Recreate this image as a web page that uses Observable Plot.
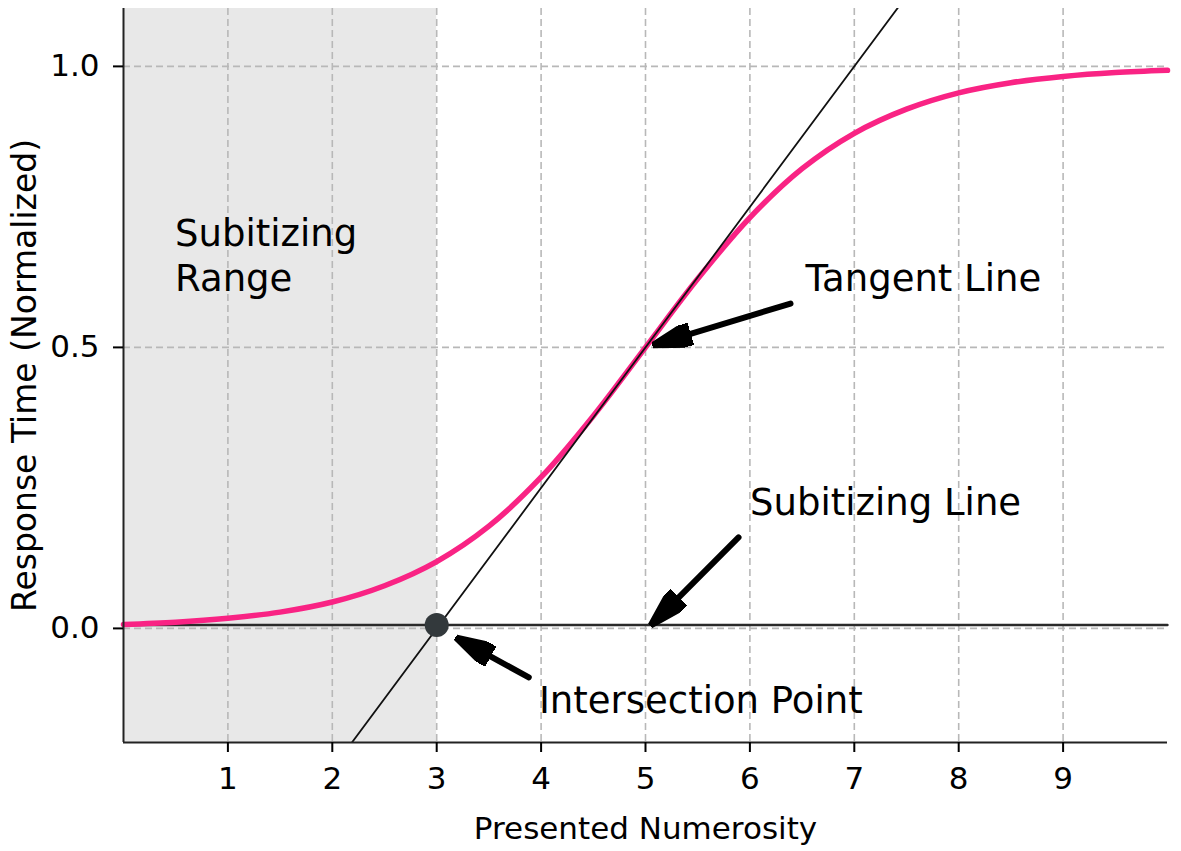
<!DOCTYPE html>
<html>
<head>
<meta charset="utf-8">
<script src="https://cdn.jsdelivr.net/npm/d3@7"></script>
<script src="https://cdn.jsdelivr.net/npm/@observablehq/plot@0.6"></script>
<style>
  html, body { margin: 0; padding: 0; background: #fff; }
  #chart svg { display: block; }
</style>
</head>
<body>
<div id="chart"></div>
<script>
// ---- data ----
const curveX = [0, 0.5, 1, 1.5, 2, 2.5, 3, 3.5, 4, 4.5, 5, 5.5, 6, 6.5, 7, 7.5, 8, 8.5, 9, 9.5, 10];
const curveY = [0.007, 0.011, 0.018, 0.029, 0.047, 0.076, 0.119, 0.182, 0.269, 0.378, 0.5,
                0.622, 0.731, 0.818, 0.881, 0.924, 0.953, 0.971, 0.982, 0.989, 0.993];

const tangentX = [2.18, 7.42];
const tangentY = [-0.205, 1.105];

const subitizingX = [0, 10];
const subitizingY = [0.006, 0.006];

const rangeX = [0, 3];

const pointX = [3];
const pointY = [0.006];

const xTicks = [1, 2, 3, 4, 5, 6, 7, 8, 9];
const yTicks = [0, 0.5, 1.0];

const noteText = ["Subitizing\nRange", "Tangent Line", "Subitizing Line", "Intersection Point"];
const noteX = [0.494, 6.533, 6.002, 3.979];
const noteY = [0.601, 0.601, 0.201, -0.151];

const arrowX1 = [6.389, 5.891, 3.882];
const arrowY1 = [0.578, 0.162, -0.087];
const arrowX2 = [5.250, 5.183, 3.349];
const arrowY2 = [0.514, 0.030, -0.033];

const xLabel = "Presented Numerosity";
const yLabel = "Response Time (Normalized)";

const xDomain = [0, 10];
const yDomain = [-0.203, 1.103];

// ---- tables built from the arrays ----
const curve = curveX.map((x, i) => ({x, y: curveY[i]}));
const tangent = tangentX.map((x, i) => ({x, y: tangentY[i]}));
const subLine = subitizingX.map((x, i) => ({x, y: subitizingY[i]}));
const point = pointX.map((x, i) => ({x, y: pointY[i]}));
const notes = noteText.map((t, i) => ({t, x: noteX[i], y: noteY[i]}));
const arrows = arrowX1.map((x1, i) => ({x1, y1: arrowY1[i], x2: arrowX2[i], y2: arrowY2[i]}));

function headMarker(color) {
  const ns = "http://www.w3.org/2000/svg";
  const m = document.createElementNS(ns, "marker");
  m.setAttribute("viewBox", "0 -11.5 40 23");
  m.setAttribute("markerWidth", 40);
  m.setAttribute("markerHeight", 23);
  m.setAttribute("markerUnits", "userSpaceOnUse");
  m.setAttribute("refX", 20);
  m.setAttribute("refY", 0);
  m.setAttribute("orient", "auto");
  const p = document.createElementNS(ns, "path");
  p.setAttribute("d", "M0,-11.5L40,0L0,11.5Z");
  p.setAttribute("fill", color);
  m.appendChild(p);
  return m;
}

const gridStyle = {stroke: "#b8b8b8", strokeOpacity: 1, strokeWidth: 1.6, strokeDasharray: "7,4"};

const chart = Plot.plot({
  width: 1181,
  height: 851,
  marginLeft: 123,
  marginRight: 14,
  marginTop: 8,
  marginBottom: 109,
  style: {fontFamily: "DejaVu Sans", background: "#fff", color: "#000"},
  x: {domain: xDomain},
  y: {domain: yDomain},
  marks: [
    Plot.rect([{x1: rangeX[0], x2: rangeX[1]}], {x1: "x1", x2: "x2", fill: "#e8e8e8"}),
    Plot.gridX(xTicks, gridStyle),
    Plot.gridY(yTicks, gridStyle),
    Plot.line(subLine, {x: "x", y: "y", stroke: "#2a2a2a", strokeWidth: 2.4}),
    Plot.line(curve, {x: "x", y: "y", stroke: "#f92384", strokeWidth: 5.5, curve: "catmull-rom"}),
    Plot.line(tangent, {x: "x", y: "y", stroke: "#111", strokeWidth: 1.8, clip: true}),
    Plot.dot(point, {x: "x", y: "y", r: 12, fill: "#33393c"}),
    Plot.link(arrows, {x1: "x1", y1: "y1", x2: "x2", y2: "y2", stroke: "#000", strokeWidth: 6,
                       strokeLinecap: "round", markerEnd: headMarker}),
    Plot.text(notes, {x: "x", y: "y", text: "t", textAnchor: "start", lineAnchor: "bottom",
                      lineHeight: 1.216, fontSize: 37, fill: "#000"}),
    Plot.ruleX([xDomain[0]], {stroke: "#222", strokeWidth: 2}),
    Plot.ruleY([yDomain[0]], {stroke: "#222", strokeWidth: 2}),
    Plot.axisX({ticks: xTicks, tickSize: 10, tickPadding: 14, fontSize: 31, strokeWidth: 2,
                tickFormat: d3.format("d"), label: null}),
    Plot.axisY({ticks: yTicks, tickSize: 10, tickPadding: 14, fontSize: 31, strokeWidth: 2,
                tickFormat: d3.format(".1f"), label: null}),
    Plot.text([xLabel], {frameAnchor: "bottom", dy: 96, textAnchor: "middle", lineAnchor: "bottom",
                         fontSize: 31, fill: "#000"}),
    Plot.text([yLabel], {frameAnchor: "left", dx: -88, rotate: -90, textAnchor: "middle",
                         lineAnchor: "bottom", fontSize: 33, fill: "#000"})
  ]
});
document.getElementById("chart").appendChild(chart);
</script>
</body>
</html>
